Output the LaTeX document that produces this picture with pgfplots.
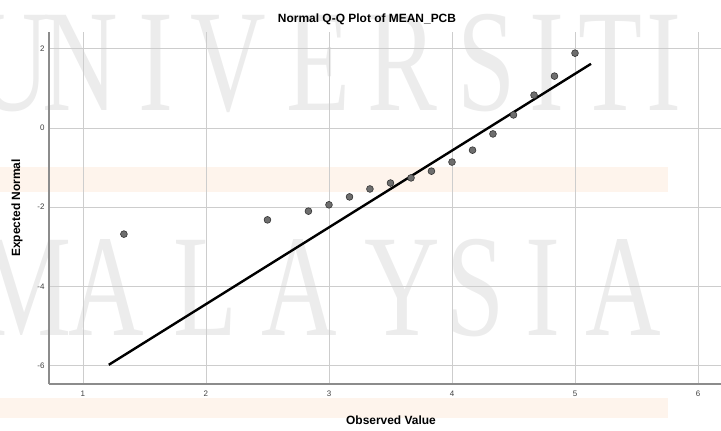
\documentclass[border=0pt]{standalone}
\usepackage{fontspec}
\setmainfont{Liberation Sans}
\newfontfamily\wmfont{Liberation Serif}
\usepackage{pgfplots}
\pgfplotsset{compat=1.18}
\definecolor{wmgray}{RGB}{236,236,236}
\definecolor{peach}{RGB}{254,244,236}
\definecolor{gridgray}{RGB}{205,205,205}
\definecolor{axgray}{RGB}{140,140,140}
\definecolor{ptfill}{RGB}{110,110,110}
\definecolor{ptdraw}{RGB}{50,50,50}
\begin{document}
\begin{tikzpicture}[x=1bp,y=1bp]
\useasboundingbox (0,0) rectangle (721,430);
% watermark
\fill[peach] (0,238) rectangle (668,263);
\fill[peach] (0,12) rectangle (668,32);
\begin{scope}[every node/.style={anchor=base, inner sep=0, text=wmgray, font=\wmfont\fontsize{146}{146}\selectfont, xscale=0.72}]
\node at (12,320) {U};
\node at (80,320) {N};
\node at (156,320) {I};
\node at (228,320) {V};
\node at (318,320) {E};
\node at (402,320) {R};
\node at (487,320) {S};
\node at (547,320) {I};
\node at (610,320) {T};
\node at (664,320) {I};
\node at (25,95) {M};
\node at (106,95) {A};
\node at (205,95) {L};
\node at (299,95) {A};
\node at (402,95) {Y};
\node at (476,95) {S};
\node at (543,95) {I};
\node at (623,95) {A};
\end{scope}
\begin{axis}[
  at={(49bp,46bp)}, anchor=south west,
  scale only axis, width=672bp, height=352bp,
  xmin=0.724, xmax=6.187, ymin=-6.465, ymax=2.424,
  axis x line*=bottom, axis y line*=left,
  axis line style={draw=axgray, line width=1.2bp},
  xtick={1,2,3,4,5,6}, ytick={-6,-4,-2,0,2},
  grid=major, major grid style={draw=gridgray, line width=0.8bp},
  major tick length=0pt,
  tick label style={font=\fontsize{8}{9}\selectfont, text=black!75},
  xticklabel style={yshift=-3bp},
  yticklabel style={xshift=-1bp},
  /pgf/number format/assume math mode=true,
  clip=false,
]
\addplot[black, line width=2.4bp, no marks] coordinates {(1.21,-5.98) (5.13,1.62)};
\addplot[only marks, mark=*, mark size=3.4bp,
  mark options={fill=ptfill, draw=ptdraw, line width=0.6bp}] coordinates {
(1.333,-2.68)
(2.5,-2.32)
(2.833,-2.10)
(3.0,-1.94)
(3.167,-1.74)
(3.333,-1.54)
(3.5,-1.39)
(3.667,-1.26)
(3.833,-1.09)
(4.0,-0.86)
(4.167,-0.56)
(4.333,-0.15)
(4.5,0.33)
(4.667,0.83)
(4.833,1.31)
(5.0,1.89)
};
\end{axis}
\node[font=\bfseries\fontsize{12}{14}\selectfont] at (367,411) {Normal Q-Q Plot of MEAN\_PCB};
\node[font=\bfseries\fontsize{12}{14}\selectfont] at (391,10) {Observed Value};
\node[font=\bfseries\fontsize{12}{14}\selectfont, rotate=90] at (17,222) {Expected Normal};
\end{tikzpicture}
\end{document}
